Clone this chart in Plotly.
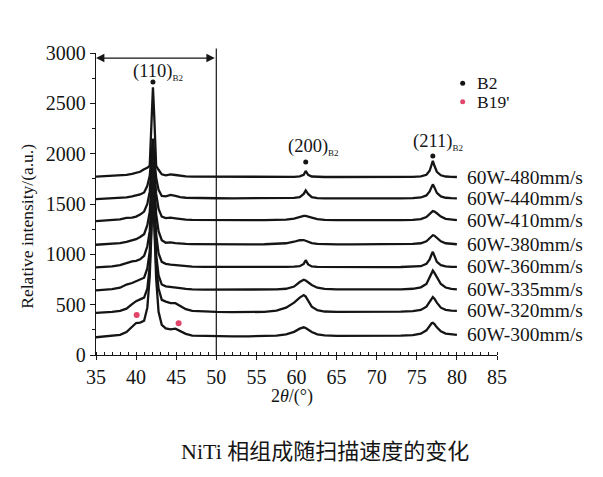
import plotly.graph_objects as go

# 2θ sampling points (degrees)
TWO_THETA = [35, 36, 37, 38, 38.8, 39.5, 40.0, 40.5, 41.0, 41.4, 41.7, 41.95, 42.1, 42.25, 42.5, 42.8,
             43.2, 43.7, 44.3, 44.9, 45.5, 46.2, 47, 48.5, 50, 52, 54, 56, 57.5, 58.7, 59.7, 60.4,
             60.9, 61.15, 61.45, 61.9, 62.6, 63.5, 65, 67, 69, 71, 73, 74.5, 75.5, 76.2, 76.6,
             76.85, 77.0, 77.2, 77.5, 78.0, 78.6, 79.3, 80]

LABELS = ["60W-480mm/s", "60W-440mm/s", "60W-410mm/s", "60W-380mm/s",
          "60W-360mm/s", "60W-335mm/s", "60W-320mm/s", "60W-300mm/s"]

I_480 = [1772, 1776, 1778, 1782, 1790, 1800, 1808, 1820, 1845, 1860, 1880, 2400, 2660, 2400, 1880, 1840,
         1795, 1785, 1795, 1788, 1778, 1774, 1772, 1771, 1770, 1770, 1769, 1769, 1769, 1769, 1770, 1774,
         1790, 1828, 1790, 1773, 1769, 1768, 1768, 1767, 1767, 1767, 1767, 1769, 1774, 1790, 1830,
         1890, 1928, 1880, 1820, 1785, 1773, 1769, 1768]
I_440 = [1548, 1552, 1555, 1560, 1566, 1575, 1583, 1595, 1615, 1680, 1780, 1980, 2150, 1980, 1760, 1640,
         1580, 1575, 1590, 1580, 1568, 1562, 1560, 1558, 1557, 1556, 1556, 1556, 1556, 1557, 1560, 1568,
         1600, 1635, 1600, 1568, 1558, 1556, 1555, 1555, 1555, 1555, 1556, 1558, 1565, 1585, 1625,
         1670, 1695, 1665, 1610, 1575, 1562, 1558, 1556]
I_410 = [1330, 1335, 1340, 1348, 1362, 1365, 1375, 1395, 1425, 1500, 1620, 1880, 2100, 1880, 1600, 1450,
         1375, 1360, 1365, 1358, 1350, 1345, 1342, 1340, 1340, 1339, 1339, 1340, 1341, 1345, 1355, 1372,
         1382, 1382, 1378, 1365, 1350, 1343, 1340, 1339, 1339, 1339, 1340, 1343, 1350, 1370, 1395,
         1420, 1430, 1425, 1408, 1375, 1352, 1343, 1340]
I_380 = [1095, 1100, 1105, 1112, 1124, 1135, 1150, 1172, 1200, 1290, 1420, 1750, 2050, 1750, 1400, 1230,
         1140, 1115, 1118, 1112, 1106, 1103, 1102, 1100, 1100, 1099, 1099, 1100, 1102, 1110, 1125, 1140,
         1142, 1135, 1125, 1112, 1104, 1101, 1099, 1098, 1098, 1098, 1099, 1103, 1110, 1130, 1160,
         1182, 1190, 1185, 1165, 1130, 1110, 1102, 1100]
I_360 = [870, 874, 880, 892, 915, 930, 935, 950, 985, 1080, 1230, 1600, 2000, 1600, 1200, 1010,
         925, 905, 898, 893, 885, 880, 878, 876, 875, 874, 874, 874, 874, 875, 877, 882,
         905, 942, 900, 880, 875, 874, 873, 873, 873, 873, 874, 876, 882, 905, 950,
         1000, 1025, 985, 925, 892, 880, 876, 875]
I_335 = [642, 648, 655, 668, 700, 715, 730, 745, 768, 860, 1030, 1450, 1950, 1450, 1000, 790,
         700, 682, 678, 676, 665, 657, 652, 650, 649, 648, 648, 649, 651, 658, 680, 725,
         748, 740, 722, 695, 668, 656, 651, 650, 650, 650, 652, 658, 672, 705, 770,
         815, 838, 815, 770, 705, 670, 657, 652]
I_320 = [418, 422, 428, 438, 460, 505, 535, 552, 570, 660, 880, 1380, 1900, 1400, 900, 660,
         548, 530, 515, 515, 490, 455, 438, 430, 428, 426, 425, 428, 440, 470, 520, 570,
         595, 580, 540, 480, 445, 432, 428, 427, 427, 427, 430, 436, 448, 480, 530,
         565, 575, 560, 520, 470, 448, 440, 438]
I_300 = [176, 182, 190, 200, 228, 285, 318, 322, 340, 470, 780, 1300, 1850, 1330, 760, 430,
         300, 265, 255, 262, 238, 210, 192, 188, 186, 186, 186, 188, 192, 205, 230, 262,
         275, 268, 252, 228, 205, 195, 190, 189, 189, 190, 192, 198, 212, 245, 290,
         315, 320, 308, 275, 235, 212, 203, 199]

SERIES = [I_480, I_440, I_410, I_380, I_360, I_335, I_320, I_300]

# phase markers
B2_X = [42.1, 61.15, 77.0]
B2_Y = [2713, 1916, 1976]
B19_X = [40.07, 45.3]
B19_Y = [397, 315]
PEAK_TEXT = ["(110)", "(200)", "(211)"]
PEAK_TEXT_X = [42.77, 62.06, 77.65]
PEAK_TEXT_Y = [2814, 2069, 2119]

X_TICKS = [35, 40, 45, 50, 55, 60, 65, 70, 75, 80, 85]
Y_TICKS = [0, 500, 1000, 1500, 2000, 2500, 3000]

SERIF = "Liberation Serif, Times New Roman, serif"
INK = "#151515"
RED = "#e2456a"

fig = go.Figure()
for name, ys in zip(LABELS, SERIES):
    fig.add_trace(go.Scatter(x=TWO_THETA, y=ys, mode="lines", name=name,
                             line=dict(color=INK, width=2.3), showlegend=False))

fig.add_trace(go.Scatter(x=B2_X, y=B2_Y, mode="markers", marker=dict(color=INK, size=5),
                         showlegend=False, cliponaxis=False))
fig.add_trace(go.Scatter(x=B19_X, y=B19_Y, mode="markers", marker=dict(color=RED, size=6),
                         showlegend=False, cliponaxis=False))
# legend-like markers
fig.add_trace(go.Scatter(x=[80.72], y=[2699], mode="markers", marker=dict(color=INK, size=5),
                         showlegend=False, cliponaxis=False))
fig.add_trace(go.Scatter(x=[80.72], y=[2516], mode="markers", marker=dict(color=RED, size=5),
                         showlegend=False, cliponaxis=False))

ann = []
for name, ys in zip(LABELS, SERIES):
    ann.append(dict(x=81.0, y=ys[-1], xref="x", yref="y", text=name, showarrow=False,
                    xanchor="left", yanchor="middle", font=dict(family=SERIF, size=19.5, color=INK)))
for t, x, y in zip(PEAK_TEXT, PEAK_TEXT_X, PEAK_TEXT_Y):
    ann.append(dict(x=x, y=y, xref="x", yref="y",
                    text=t + "<sub><span style='font-size:9px'>B2</span></sub>",
                    showarrow=False, xanchor="center", yanchor="middle",
                    font=dict(family=SERIF, size=18.5, color=INK)))
ann.append(dict(x=82.26, y=2699, xref="x", yref="y", text="B2", showarrow=False, xanchor="left",
                yanchor="middle", font=dict(family=SERIF, size=17.5, color=INK)))
ann.append(dict(x=82.26, y=2516, xref="x", yref="y", text="B19'", showarrow=False, xanchor="left",
                yanchor="middle", font=dict(family=SERIF, size=17.5, color=INK)))
# double arrow spanning 35-50
ann.append(dict(x=35, y=2950, ax=50, ay=2950, xref="x", yref="y", axref="x", ayref="y",
                text="", showarrow=True, arrowhead=2, arrowside="end+start", arrowsize=1.4,
                arrowwidth=1.2, arrowcolor=INK))
# vertical separator at 50
ann.append(dict(x=50, y=0, ax=50, ay=3060, xref="x", yref="y", axref="x", ayref="y",
                text="", showarrow=True, arrowhead=0, arrowwidth=1.2, arrowcolor=INK))
# axis titles and caption
ann.append(dict(x=-0.172, y=0.425, xref="paper", yref="paper", text="Relative intensity/(a.u.)",
                textangle=-90, showarrow=False, xanchor="center", yanchor="middle",
                font=dict(family=SERIF, size=17.5, color=INK)))
ann.append(dict(x=0.489, y=-0.139, xref="paper", yref="paper", text="2<i>θ</i>/(°)",
                showarrow=False, xanchor="center", yanchor="middle",
                font=dict(family=SERIF, size=18, color=INK)))
ann.append(dict(x=0.571, y=-0.318, xref="paper", yref="paper",
                text="NiTi 相组成随扫描速度的变化", showarrow=False, xanchor="center", yanchor="middle",
                font=dict(family="Liberation Serif, Noto Sans CJK SC", size=22, color=INK)))

# page body has an 8px margin, so the figure is sized/offset to compensate
fig.update_layout(
    width=595, height=469,
    margin=dict(l=88, r=106, t=45, b=122),
    paper_bgcolor="white", plot_bgcolor="white",
    annotations=ann,
    xaxis=dict(range=[35, 85], tickvals=X_TICKS, ticks="outside", ticklen=4, tickwidth=1.2,
               tickcolor=INK, showline=True, linecolor=INK, linewidth=1.3, showgrid=False,
               zeroline=False, tickfont=dict(family=SERIF, size=20, color=INK),
               minor=dict(dtick=1, ticks="inside", ticklen=3, tickcolor=INK, tickwidth=1,
                          showgrid=False)),
    yaxis=dict(range=[0, 3000], tickvals=Y_TICKS, ticks="outside", ticklen=5, tickwidth=1.2,
               tickcolor=INK, showline=True, linecolor=INK, linewidth=1.3, showgrid=False,
               zeroline=False, tickfont=dict(family=SERIF, size=20, color=INK),
               minor=dict(dtick=250, ticks="outside", ticklen=3, tickcolor=INK, tickwidth=1,
                          showgrid=False)),
)

fig.write_html("out.html")
